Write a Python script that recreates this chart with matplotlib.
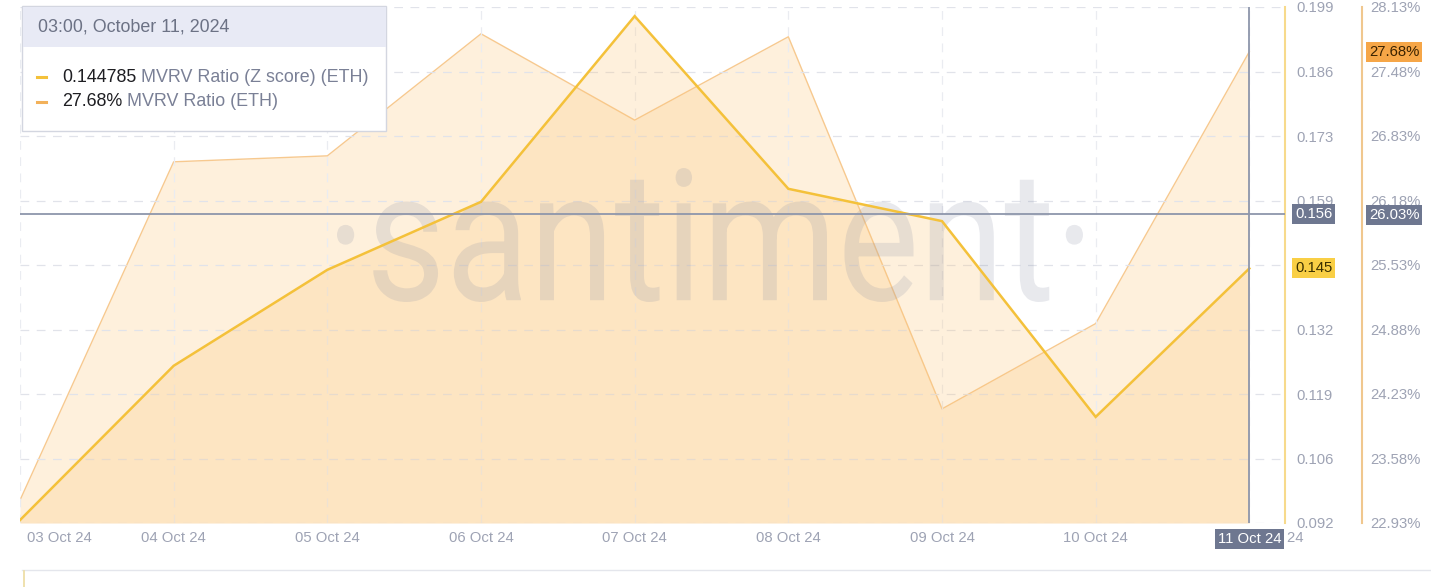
import numpy as np
import matplotlib
matplotlib.use('Agg')
import matplotlib.pyplot as plt
from matplotlib.textpath import TextPath
from matplotlib.patches import PathPatch, Rectangle
from matplotlib.path import Path
from matplotlib.font_manager import FontProperties
from matplotlib.lines import Line2D
import matplotlib.transforms as mtransforms

# ---------------- data ----------------
days = ['03 Oct 24', '04 Oct 24', '05 Oct 24', '06 Oct 24', '07 Oct 24',
        '08 Oct 24', '09 Oct 24', '10 Oct 24', '11 Oct 24']
z_score = [0.0926, 0.1246, 0.1445, 0.1586, 0.1971, 0.1613, 0.1546, 0.1140, 0.144785]
mvrv_pct = [23.16, 26.57, 26.63, 27.86, 26.99, 27.83, 24.08, 24.94, 27.68]

z_ticklabels = ['0.092', '0.106', '0.119', '0.132', '', '0.159', '0.173', '0.186', '0.199']
mvrv_ticklabels = ['22.93%', '23.58%', '24.23%', '24.88%', '25.53%', '26.18%', '26.83%', '27.48%', '28.13%']
z_lim = (0.092, 0.199)
mvrv_lim = (22.93, 28.13)

cross_z = 0.156
cross_mvrv = 26.03
header = '03:00, October 11, 2024'
z_name = 'MVRV Ratio (Z score) (ETH)'
mvrv_name = 'MVRV Ratio (ETH)'

# ---------------- style ----------------
W, H = 1431, 587
FONT = 'Liberation Sans'
plt.rcParams['font.family'] = [FONT, 'DejaVu Sans']
TICK_C = '#9ea3b4'
Z_C = '#f4c13a'
M_C = '#f7c98f'
FILL_C = '#fcc67a'
CROSS_C = '#8e96ab'
BOX_C = '#6e7790'

def fx(px):
    return px / W

def fy(py):
    return 1 - py / H

def pt(px):
    return px * 72 / 100

fig = plt.figure(figsize=(W / 100, H / 100), dpi=100)
fig.patch.set_facecolor('white')

ax = fig.add_axes([fx(20), fy(523), fx(1265), 516 / H])
ax2 = ax.twinx()
ax.set_zorder(2)
ax2.set_zorder(1)
ax.patch.set_visible(False)

x = np.arange(len(days))
ax.set_xlim(0, 8.232)
ax.set_ylim(*z_lim)
ax2.set_ylim(*mvrv_lim)

# MVRV (%) series on ax2
ax2.fill_between(x, mvrv_pct, mvrv_lim[0], color=FILL_C, alpha=0.26, lw=0, zorder=1)
ax2.plot(x, mvrv_pct, color=M_C, lw=1.0, zorder=2)

# Z-score series on ax
ax.fill_between(x, z_score, z_lim[0], color=FILL_C, alpha=0.26, lw=0, zorder=1)
ax.plot(x, z_score, color=Z_C, lw=1.8, zorder=3, solid_joinstyle='miter')

# ticks & grid
zt = np.linspace(z_lim[0], z_lim[1], len(z_ticklabels))
mt = np.linspace(mvrv_lim[0], mvrv_lim[1], len(mvrv_ticklabels))
ax.set_yticks(zt)
ax.set_yticklabels(z_ticklabels)
ax2.set_yticks(mt)
ax2.set_yticklabels(mvrv_ticklabels)
ax.set_xticks(x)
ax.set_xticklabels(days)
ax.set_axisbelow(True)
ax.grid(True, axis='y', color='#e1e3ea', linestyle=(0, (7, 6)), lw=0.9)
ax.grid(True, axis='x', color='#eaecf1', linestyle=(0, (7, 6)), lw=0.9)

# axes / spines
for s in ['left', 'top', 'bottom']:
    ax.spines[s].set_visible(False)
    ax2.spines[s].set_visible(False)
ax.spines['right'].set_color('#f7da8c')
ax.spines['right'].set_linewidth(1.5)
ax2.spines['right'].set_position(('outward', pt(77)))
ax2.spines['right'].set_color('#f0c78e')
ax2.spines['right'].set_linewidth(1.5)

ax.yaxis.tick_right()
ax.tick_params(axis='y', length=0, pad=pt(11), labelsize=10.7, labelcolor=TICK_C)
ax2.tick_params(axis='y', length=0, pad=pt(8), labelsize=10.7, labelcolor=TICK_C)
ax.tick_params(axis='x', length=0, pad=pt(8), labelsize=10.7, labelcolor=TICK_C)

xl = ax.get_xticklabels()
xl[0].set_horizontalalignment('left')
xl[0].set_transform(xl[0].get_transform() + mtransforms.ScaledTranslation(7 / 100, 0, fig.dpi_scale_trans))
xl[-1].set_transform(xl[-1].get_transform() + mtransforms.ScaledTranslation(22 / 100, 0, fig.dpi_scale_trans))

# crosshair
ax.axhline(cross_z, color=CROSS_C, lw=1.3, zorder=4)
ax.axvline(x[-1], color=CROSS_C, lw=1.3, zorder=4)

lab_kw = dict(textcoords='offset points', va='center', ha='left', fontsize=10.7,
              annotation_clip=False, zorder=20)
ax.annotate(f'{cross_z:.3f}', xy=(1, cross_z), xycoords=ax.get_yaxis_transform(),
            xytext=(pt(10), 0), color='white',
            bbox=dict(boxstyle='square,pad=0.2', fc=BOX_C, ec='none'), **lab_kw)
ax.annotate(f'{z_score[-1]:.3f}', xy=(1, z_score[-1]), xycoords=ax.get_yaxis_transform(),
            xytext=(pt(10), 0), color='#3a3000',
            bbox=dict(boxstyle='square,pad=0.2', fc='#f9cf45', ec='none'), **lab_kw)
ax2.annotate(f'{cross_mvrv:.2f}%', xy=(1, cross_mvrv), xycoords=ax2.get_yaxis_transform(),
             xytext=(pt(84), 0), color='white',
             bbox=dict(boxstyle='square,pad=0.2', fc=BOX_C, ec='none'), **lab_kw)
ax2.annotate(f'{mvrv_pct[-1]:.2f}%', xy=(1, mvrv_pct[-1]), xycoords=ax2.get_yaxis_transform(),
             xytext=(pt(84), 0), color='#3a2200',
             bbox=dict(boxstyle='square,pad=0.2', fc='#f6a647', ec='none'), **lab_kw)

ax.annotate(days[-1], xy=(x[-1], 0), xycoords=ax.get_xaxis_transform(),
            xytext=(0, -pt(16)), textcoords='offset points', ha='center', va='center',
            fontsize=10.7, color='white', annotation_clip=False, zorder=20,
            bbox=dict(boxstyle='square,pad=0.2', fc=BOX_C, ec='none'))

# watermark
tp = TextPath((0, 0), '\u00b7santiment\u00b7', size=1, prop=FontProperties(family='Roboto'))
bb = tp.get_extents()
v = tp.vertices.copy()
x0, x1, y0, y1 = 337, 1083, 168, 302
v[:, 0] = fx(x0 + (v[:, 0] - bb.x0) / bb.width * (x1 - x0))
v[:, 1] = fy(y1 - (v[:, 1] - bb.y0) / bb.height * (y1 - y0))
wm = PathPatch(Path(v, tp.codes), transform=fig.transFigure, fc='#868ca4', ec='none',
               alpha=0.19, zorder=2)
ax.add_patch(wm)

# legend box
fig.patches.append(Rectangle((fx(22), fy(131)), fx(364), 125 / H, transform=fig.transFigure,
                             fc='white', ec='#d3d6e0', lw=1, zorder=30))
fig.patches.append(Rectangle((fx(22.5), fy(47)), fx(363), 40.5 / H, transform=fig.transFigure,
                             fc='#e8eaf5', ec='none', zorder=31))
fig.text(fx(38), fy(27), header, fontsize=12.9, color='#6c7285', va='center', ha='left', zorder=32)
for yy, col, val, name in [(77, Z_C, f'{z_score[-1]:.6f}', z_name),
                           (102, '#f2b15a', f'{mvrv_pct[-1]:.2f}%', mvrv_name)]:
    fig.lines.append(Line2D([fx(37), fx(46)], [fy(yy), fy(yy)], transform=fig.transFigure,
                            color=col, lw=2.2, zorder=32))
    t1 = fig.text(fx(62), fy(yy), val, fontsize=12.9, color='#1e1e22', va='center', ha='left',
                  zorder=32)
    a = plt.annotate(' ' + name, xy=(1, 0.5), xycoords=t1, va='center', ha='left',
                     fontsize=12.9, color='#7a8096', annotation_clip=False)
    a.set_zorder(32)
    fig.texts.append(a)

# navigator strip at the bottom
fig.lines.append(Line2D([fx(22), fx(1431)], [fy(570), fy(570)], transform=fig.transFigure,
                        color='#e4e6ec', lw=1))
fig.lines.append(Line2D([fx(24), fx(24)], [fy(571), fy(587)], transform=fig.transFigure,
                        color='#ecdca0', lw=1.2))

fig.savefig('out.png', dpi=100)
